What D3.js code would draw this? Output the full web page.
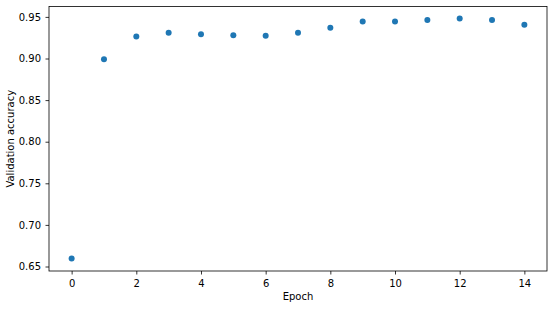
<!DOCTYPE html>
<html>
<head>
<meta charset="utf-8">
<script src="https://cdn.jsdelivr.net/npm/d3@7"></script>
<style>
  body { margin: 0; background: #fff; }
  svg text { font-family: "DejaVu Sans", sans-serif; fill: #000; }
</style>
</head>
<body>
<svg width="550" height="309"></svg>
<script>
const epochs = [0, 1, 2, 3, 4, 5, 6, 7, 8, 9, 10, 11, 12, 13, 14];
const accuracy = [0.6595, 0.899, 0.9265, 0.931, 0.929, 0.928, 0.9274, 0.931, 0.937, 0.9444, 0.9444, 0.9464, 0.948, 0.9464, 0.9405];
const xTicks = [0, 2, 4, 6, 8, 10, 12, 14];
const yTicks = [0.65, 0.70, 0.75, 0.80, 0.85, 0.90, 0.95];

const svg = d3.select("svg");
const plotLeft = 49, plotRight = 547, plotTop = 6.5, plotBottom = 271;

const x = d3.scaleLinear()
  .domain([-0.7, 14.7])
  .range([plotLeft, plotRight]);

const y = d3.scaleLinear()
  .domain([0.6446, 0.9625])
  .range([plotBottom, plotTop]);

const xAxis = svg.append("g")
  .attr("transform", `translate(0, ${plotBottom})`)
  .call(d3.axisBottom(x).tickValues(xTicks).tickSize(3.5).tickPadding(5).tickFormat(d3.format("d")));

const yAxis = svg.append("g")
  .attr("transform", `translate(${plotLeft}, 0)`)
  .call(d3.axisLeft(y).tickValues(yTicks).tickSize(3.5).tickPadding(4.5).tickFormat(d3.format(".2f")));

[xAxis, yAxis].forEach(a => {
  a.select(".domain").remove();
  a.selectAll("text").attr("font-size", 10).attr("font-family", "DejaVu Sans");
  a.selectAll("line").attr("stroke", "#000").attr("stroke-width", 0.8);
});

svg.append("rect")
  .attr("x", plotLeft)
  .attr("y", plotTop)
  .attr("width", plotRight - plotLeft)
  .attr("height", plotBottom - plotTop)
  .attr("fill", "none")
  .attr("stroke", "#000")
  .attr("stroke-width", 0.8);

svg.append("g")
  .selectAll("circle")
  .data(epochs)
  .enter().append("circle")
  .attr("cx", d => x(d))
  .attr("cy", (d, i) => y(accuracy[i]))
  .attr("r", 3)
  .attr("fill", "#1f77b4");

svg.append("text")
  .attr("x", (plotLeft + plotRight) / 2)
  .attr("y", 300)
  .attr("text-anchor", "middle")
  .attr("font-size", 10)
  .text("Epoch");

svg.append("text")
  .attr("transform", `translate(13.5, ${(plotTop + plotBottom) / 2}) rotate(-90)`)
  .attr("text-anchor", "middle")
  .attr("font-size", 10)
  .text("Validation accuracy");
</script>
</body>
</html>
